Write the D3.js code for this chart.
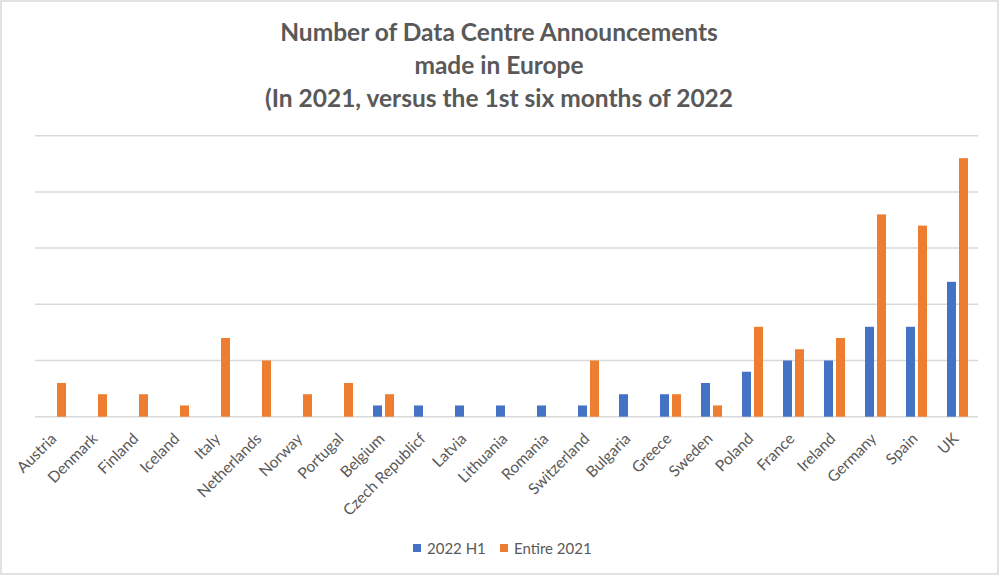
<!DOCTYPE html>
<html lang="en">
<head>
    <meta charset="UTF-8">
    <title>Number of Data Centre Announcements made in Europe</title>
    <script src="https://d3js.org/d3.v7.min.js"></script>
    <style>
        body {
            margin: 0;
            background: #fff;
        }
        svg {
            display: block;
            font-family: Lato, "Open Sans", sans-serif;
        }
    </style>
</head>
<body>
    <script>
        // data
        const countries = ["Austria", "Denmark", "Finland", "Iceland", "Italy", "Netherlands", "Norway",
            "Portugal", "Belgium", "Czech Republicf", "Latvia", "Lithuania", "Romania", "Switzerland",
            "Bulgaria", "Greece", "Sweden", "Poland", "France", "Ireland", "Germany", "Spain", "UK"];
        const h1_2022 = [0, 0, 0, 0, 0, 0, 0, 0, 1, 1, 1, 1, 1, 1, 2, 2, 3, 4, 5, 5, 8, 8, 12];
        const entire2021 = [3, 2, 2, 1, 7, 5, 2, 3, 2, 0, 0, 0, 0, 5, 0, 2, 1, 8, 6, 7, 18, 17, 23];
        const seriesNames = ["2022 H1", "Entire 2021"];
        const colors = ["#4472c4", "#ed7d31"];
        const gridTicks = [0, 5, 10, 15, 20, 25];

        const width = 1000, height = 576;
        const svg = d3.select("body").append("svg")
            .attr("width", width)
            .attr("height", height);

        // chart border
        svg.append("rect")
            .attr("x", 1).attr("y", 1)
            .attr("width", width - 3).attr("height", height - 3)
            .attr("fill", "none")
            .attr("stroke", "#d9d9d9")
            .attr("stroke-width", 1.5);

        // title
        const titleLines = ["Number of Data Centre Announcements", "made in Europe",
            "(In 2021, versus the 1st six months of 2022"];
        svg.append("g").selectAll("text")
            .data(titleLines)
            .join("text")
            .attr("x", 499)
            .attr("y", (d, i) => 41 + i * 33)
            .attr("text-anchor", "middle")
            .attr("font-size", 24.5)
            .attr("font-weight", "bold")
            .attr("fill", "#595959")
            .text(d => d);

        const x0 = d3.scaleBand()
            .domain(countries)
            .range([35, 978]);

        const x1 = d3.scaleBand()
            .domain(seriesNames)
            .range([10, 31])
            .paddingInner(0.25);

        const y = d3.scaleLinear()
            .domain([0, 25])
            .range([416.7, 135.7]);

        // gridlines
        svg.append("g")
            .selectAll("line")
            .data(gridTicks)
            .join("line")
            .attr("x1", 35)
            .attr("x2", 978)
            .attr("y1", d => y(d))
            .attr("y2", d => y(d))
            .attr("stroke", "#d9d9d9")
            .attr("stroke-width", 1.5);

        // bars
        const rows = countries.map((c, i) => ({ country: c, values: [h1_2022[i], entire2021[i]] }));
        svg.append("g")
            .selectAll("g")
            .data(rows)
            .join("g")
            .attr("transform", d => `translate(${x0(d.country)},0)`)
            .selectAll("rect")
            .data(d => d.values.map((v, j) => ({ key: seriesNames[j], value: v, color: colors[j] })))
            .join("rect")
            .filter(d => d.value > 0)
            .attr("x", d => x1(d.key))
            .attr("width", x1.bandwidth())
            .attr("y", d => y(d.value))
            .attr("height", d => y(0) - y(d.value))
            .attr("fill", d => d.color);

        // category labels
        svg.append("g")
            .selectAll("text")
            .data(countries)
            .join("text")
            .attr("transform", d => `translate(${x0(d) + x0.bandwidth() / 2 + 2},${y(0) + 23}) rotate(-45)`)
            .attr("text-anchor", "end")
            .attr("font-size", 15.5)
            .attr("fill", "#595959")
            .text(d => d);

        // legend
        const legend = svg.append("g")
            .selectAll("g")
            .data(seriesNames)
            .join("g")
            .attr("transform", (d, i) => `translate(${413 + i * 87},0)`);
        legend.append("rect")
            .attr("x", 0).attr("y", 544)
            .attr("width", 8).attr("height", 8)
            .attr("fill", (d, i) => colors[i]);
        legend.append("text")
            .attr("x", 14).attr("y", 553.5)
            .attr("font-size", 15)
            .attr("fill", "#595959")
            .text(d => d);
    </script>
</body>
</html>
